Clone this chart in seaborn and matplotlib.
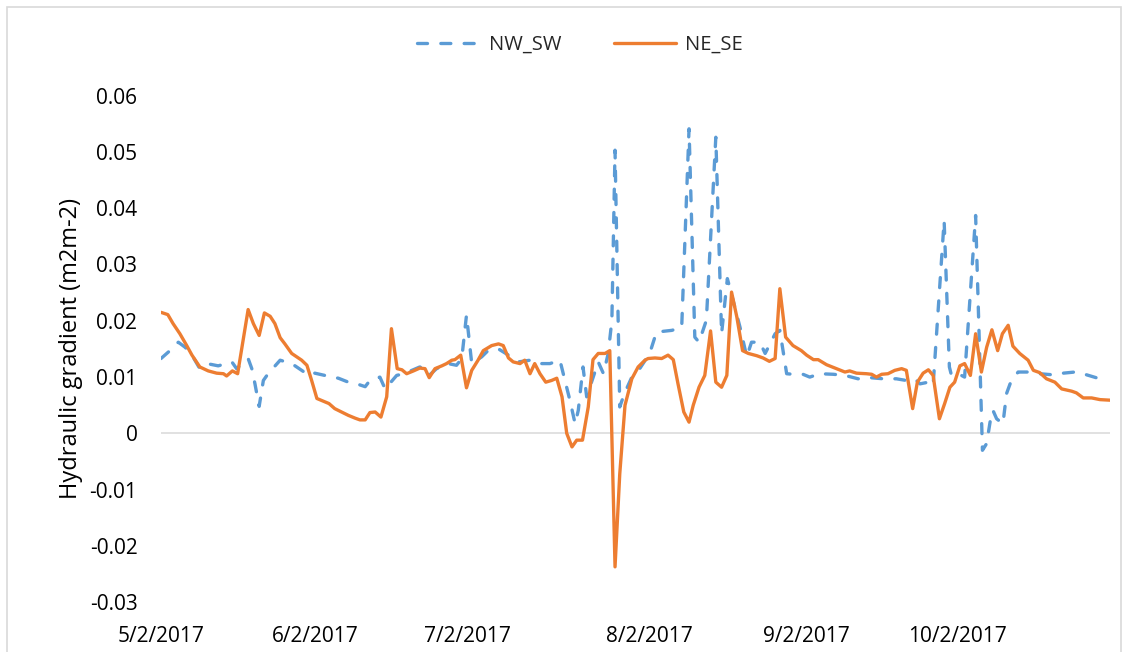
import matplotlib
matplotlib.use("Agg")
import matplotlib.pyplot as plt
import pandas as pd
import seaborn as sns
from matplotlib.patches import Rectangle

# Day offsets (days after 5/2/2017) and hydraulic gradient values (m2 m-2)
nw_sw_day = [0.0, 1.7, 3.3, 4.6, 5.9, 7.4, 9.3, 10.9, 13.5, 14.4, 16.6, 17.3, 17.9, 18.7,
             19.5, 20.4, 22.7, 24.9, 26.8, 28.2, 29.3, 31.2, 33.8, 35.7, 37.3, 38.9, 39.8,
             41.7, 42.7, 44.9, 46.2, 47.8, 49.3, 50.3, 51.2, 52.5, 54.7, 56.3, 57.3, 58.2,
             59.2, 61.1, 62.3, 64.3, 66.2, 68.1, 70.3, 71.9, 74.1, 76.0, 76.8, 77.9, 78.9,
             79.5, 80.4, 81.1, 83.3, 84.3, 85.2, 85.9, 86.5, 87.4, 88.3, 89.7, 91.2, 93.1,
             94.4, 97.3, 99.2, 100.6, 101.7, 102.5, 103.9, 105.7, 106.8, 107.9, 109.0,
             110.3, 111.6, 112.5, 114.1, 115.1, 117.0, 117.9, 119.2, 120.4, 122.3, 123.6,
             125.5, 128.1, 130.3, 132.8, 135.1, 137.6, 140.1, 142.0, 143.6, 144.6, 146.2,
             147.1, 149.2, 150.2, 150.6, 151.9, 153.1, 155.2, 156.5, 157.3, 158.0, 158.5,
             159.2, 160.4, 161.1, 162.0, 163.3, 165.2, 167.4, 170.0, 171.9, 174.1, 176.0,
             178.5, 179.8]
nw_sw_val = [0.0133, 0.0147, 0.0162, 0.0153, 0.0139, 0.0115, 0.0123, 0.0120, 0.0127, 0.0115,
             0.0133, 0.0115, 0.0088, 0.0048, 0.0094, 0.0106, 0.0130, 0.0124, 0.0112, 0.0103,
             0.0107, 0.0103, 0.0098, 0.0091, 0.0088, 0.0083, 0.0094, 0.0100, 0.0079, 0.0103,
             0.0106, 0.0112, 0.0118, 0.0115, 0.0104, 0.0115, 0.0124, 0.0121, 0.0133, 0.0210,
             0.0124, 0.0136, 0.0147, 0.0150, 0.0139, 0.0127, 0.0130, 0.0124, 0.0124, 0.0130,
             0.0100, 0.0059, 0.0017, 0.0041, 0.0118, 0.0065, 0.0127, 0.0106, 0.0142, 0.0201,
             0.0503, 0.0047, 0.0071, 0.0100, 0.0115, 0.0142, 0.0180, 0.0183, 0.0188, 0.0541,
             0.0171, 0.0162, 0.0201, 0.0526, 0.0177, 0.0275, 0.0236, 0.0189, 0.0136, 0.0162,
             0.0162, 0.0142, 0.0177, 0.0183, 0.0106, 0.0105, 0.0105, 0.0100, 0.0106, 0.0105,
             0.0103, 0.0097, 0.0099, 0.0097, 0.0097, 0.0094, 0.0097, 0.0088, 0.0091, 0.0085,
             0.0378, 0.0118, 0.0103, 0.0106, 0.0100, 0.0387, -0.0030, -0.0018, 0.0023, 0.0041,
             0.0026, 0.0017, 0.0071, 0.0094, 0.0109, 0.0109, 0.0106, 0.0104, 0.0107, 0.0109,
             0.0105, 0.0098, 0.0107]

ne_se_day = [0.0, 1.3, 2.3, 3.6, 4.9, 5.9, 7.4, 9.0, 10.6, 11.9, 12.5, 13.6, 14.6, 16.6,
             17.6, 18.7, 19.7, 20.8, 21.7, 22.7, 23.6, 24.9, 26.8, 27.8, 28.7, 29.7, 31.0,
             32.0, 33.1, 34.4, 35.7, 37.0, 37.9, 38.9, 39.8, 40.8, 41.9, 43.0, 43.9, 45.0,
             45.9, 46.8, 48.1, 49.3, 50.3, 51.1, 52.2, 53.5, 54.4, 55.4, 56.0, 57.1, 58.2,
             59.2, 60.4, 61.4, 63.0, 64.3, 65.2, 66.2, 67.1, 68.4, 69.3, 70.3, 71.2, 72.2,
             73.3, 74.4, 75.4, 76.4, 77.3, 78.3, 79.2, 80.3, 81.4, 82.3, 83.3, 84.6, 85.5,
             86.5, 87.4, 88.4, 89.7, 90.9, 92.2, 92.8, 94.1, 95.4, 96.6, 97.6, 98.5, 99.6,
             100.6, 101.4, 102.5, 103.6, 104.7, 105.7, 106.8, 107.8, 108.7, 109.7, 110.8,
             111.9, 113.5, 114.7, 115.9, 117.0, 117.9, 119.0, 120.4, 122.0, 123.0, 124.3,
             125.2, 126.8, 128.7, 130.3, 131.2, 132.5, 134.4, 135.4, 136.3, 137.3, 138.5,
             139.8, 141.1, 142.0, 143.2, 144.1, 145.2, 146.2, 147.1, 148.3, 149.3, 150.3,
             151.2, 152.2, 153.1, 154.2, 155.2, 156.3, 157.3, 158.3, 159.4, 160.3, 161.4,
             162.3, 163.6, 165.2, 166.2, 167.4, 168.7, 170.3, 171.6, 173.5, 174.4, 175.7,
             177.3, 178.9, 180.8]
ne_se_val = [0.0215, 0.0211, 0.0195, 0.0177, 0.0156, 0.0139, 0.0118, 0.0111, 0.0107, 0.0106,
             0.0102, 0.0111, 0.0106, 0.0220, 0.0195, 0.0174, 0.0214, 0.0208, 0.0195, 0.0170,
             0.0159, 0.0142, 0.0130, 0.0121, 0.0094, 0.0062, 0.0057, 0.0053, 0.0044, 0.0038,
             0.0032, 0.0027, 0.0024, 0.0024, 0.0037, 0.0038, 0.0029, 0.0065, 0.0186, 0.0115,
             0.0113, 0.0106, 0.0111, 0.0116, 0.0115, 0.0099, 0.0115, 0.0120, 0.0124, 0.0130,
             0.0131, 0.0139, 0.0081, 0.0112, 0.0130, 0.0147, 0.0156, 0.0159, 0.0156, 0.0134,
             0.0127, 0.0124, 0.0130, 0.0106, 0.0124, 0.0106, 0.0091, 0.0094, 0.0098, 0.0065,
             0.0000, -0.0024, -0.0012, -0.0012, 0.0047, 0.0131, 0.0142, 0.0142, 0.0147,
             -0.0237, -0.0072, 0.0050, 0.0097, 0.0118, 0.0130, 0.0133, 0.0134, 0.0133, 0.0139,
             0.0131, 0.0088, 0.0038, 0.0020, 0.0050, 0.0082, 0.0103, 0.0182, 0.0091, 0.0082,
             0.0103, 0.0251, 0.0207, 0.0147, 0.0142, 0.0138, 0.0134, 0.0128, 0.0133, 0.0257,
             0.0171, 0.0156, 0.0147, 0.0139, 0.0131, 0.0131, 0.0122, 0.0115, 0.0109, 0.0111,
             0.0107, 0.0106, 0.0105, 0.0100, 0.0105, 0.0106, 0.0112, 0.0115, 0.0112, 0.0044,
             0.0091, 0.0107, 0.0113, 0.0103, 0.0026, 0.0053, 0.0082, 0.0091, 0.0120, 0.0124,
             0.0103, 0.0177, 0.0109, 0.0153, 0.0184, 0.0147, 0.0177, 0.0192, 0.0155, 0.0142,
             0.0130, 0.0112, 0.0108, 0.0097, 0.0091, 0.0079, 0.0075, 0.0072, 0.0063, 0.0063,
             0.0060, 0.0059]

series_names = ["NW_SW", "NE_SE"]
series_colors = ["#5B9BD5", "#ED7D31"]

tick_days = [0.0, 29.3, 58.3, 93.0, 122.9, 151.8]
tick_labels = ["5/2/2017", "6/2/2017", "7/2/2017", "8/2/2017", "9/2/2017", "10/2/2017"]
y_ticks = [-0.03, -0.02, -0.01, 0.0, 0.01, 0.02, 0.03, 0.04, 0.05, 0.06]
y_label = "Hydraulic gradient (m2m-2)"

df = pd.concat([
    pd.DataFrame({"day": nw_sw_day, "gradient": nw_sw_val, "series": series_names[0]}),
    pd.DataFrame({"day": ne_se_day, "gradient": ne_se_val, "series": series_names[1]}),
], ignore_index=True)

sns.set_theme(style="white")
plt.rcParams["font.family"] = ["Open Sans", "DejaVu Sans"]

W, H = 1148, 652
fig = plt.figure(figsize=(W / 100, H / 100), dpi=100)
fig.patch.set_facecolor("white")
ax = fig.add_axes([161 / W, 1 - 602.3 / H, (1110 - 161) / W, (602.3 - 95.6) / H])

# chart-area frame
fig.patches.append(Rectangle((7 / W, -0.05), (1121 - 7) / W, 1.05 - 7 / H,
                             transform=fig.transFigure, fill=False,
                             edgecolor="#d9d9d9", linewidth=1.2, zorder=0))

ax.axhline(0, color="#d9d9d9", linewidth=1.1, zorder=0.5)

sns.lineplot(data=df, x="day", y="gradient", hue="series", style="series",
             hue_order=series_names, style_order=series_names,
             palette=dict(zip(series_names, series_colors)),
             dashes={series_names[0]: (3, 4), series_names[1]: ""},
             linewidth=2.4, estimator=None, errorbar=None, legend=False, ax=ax)

for line in ax.lines[-2:]:
    line.set_dash_capstyle("round")
    line.set_solid_joinstyle("round")
    line.set_dash_joinstyle("round")

ax.set_xlim(0, 180.8)
ax.set_ylim(-0.03, 0.06)
ax.set_xticks(tick_days)
ax.set_xticklabels(tick_labels)
ax.set_yticks(y_ticks)
ax.set_yticklabels(["0" if v == 0 else f"{v:.2f}" for v in y_ticks])
ax.tick_params(axis="x", length=0, pad=17, labelsize=15, colors="black")
ax.tick_params(axis="y", length=0, pad=17, labelsize=15, colors="black")
ax.set_xlabel("")
ax.set_ylabel(y_label, fontsize=17, color="black")
ax.yaxis.set_label_coords(-0.082, 0.5)
for s in ax.spines.values():
    s.set_visible(False)
ax.grid(False)
ax.set_facecolor("white")

handles = ax.lines[-2:]
fig.legend(handles, series_names, loc="center", bbox_to_anchor=(580 / W, 1 - 45 / H),
           ncol=2, frameon=False, fontsize=14.5, handlelength=3.1, handletextpad=0.45,
           columnspacing=2.6)

fig.savefig("out.png", dpi=100, facecolor="white")
